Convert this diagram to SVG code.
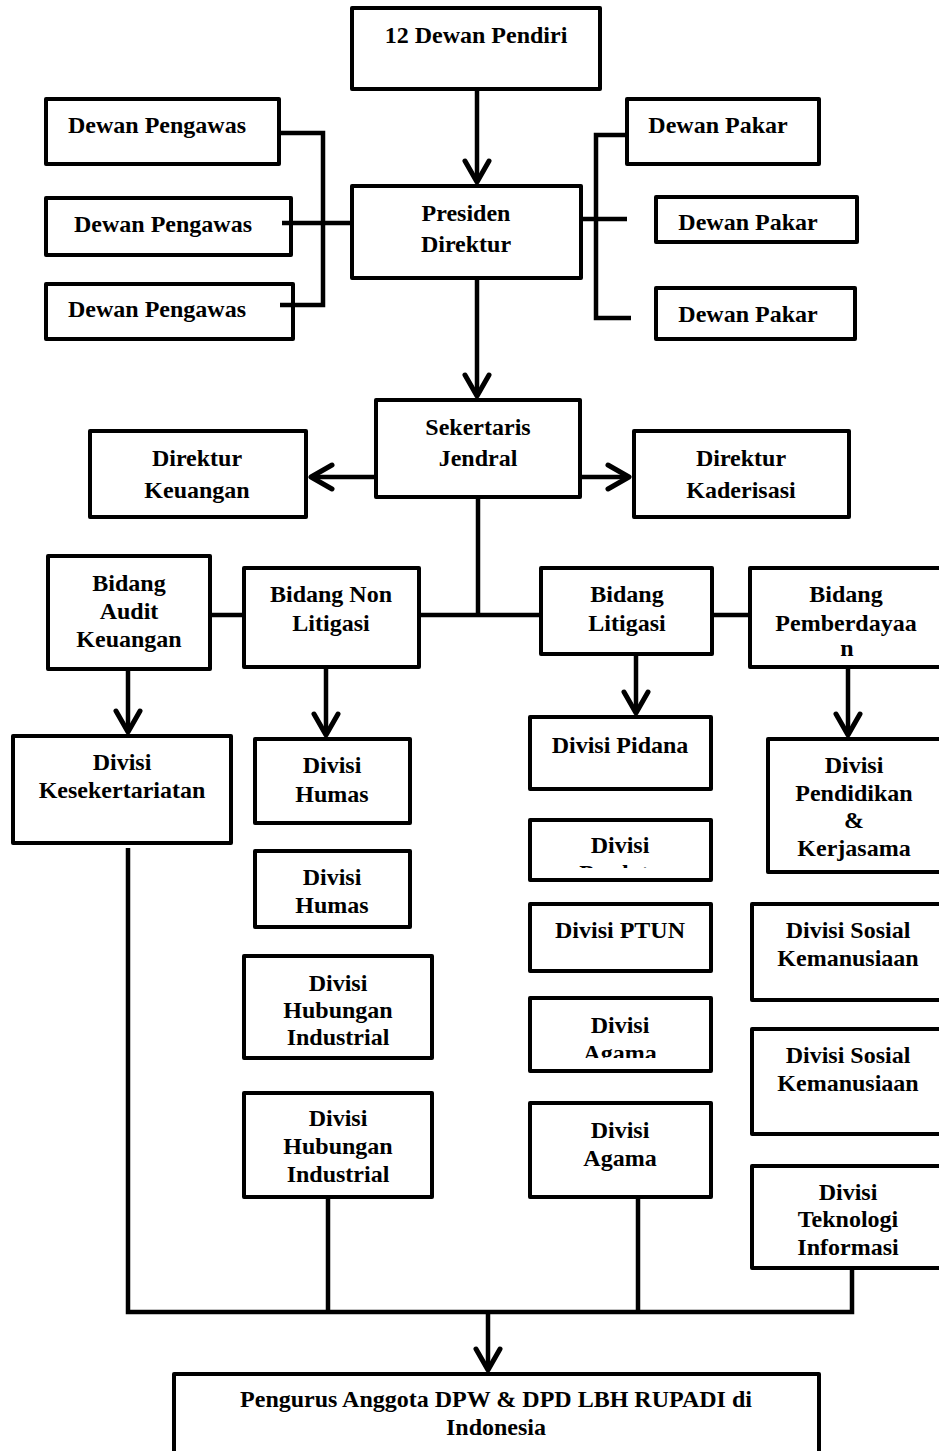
<svg xmlns="http://www.w3.org/2000/svg" width="939" height="1451" viewBox="0 0 939 1451">
<style>
.box{fill:#fff;stroke:#000;stroke-width:4;stroke-linejoin:round}
.ln{fill:none;stroke:#000;stroke-width:4.5;stroke-linejoin:miter}
.ar{fill:none;stroke:#000;stroke-width:4.5;marker-end:url(#ah)}
text{font-family:"Liberation Serif","Times New Roman",serif;font-weight:bold;font-size:24px;text-anchor:middle;fill:#000}
</style>
<defs>
<marker id="ah" markerUnits="userSpaceOnUse" markerWidth="32" markerHeight="32" viewBox="-26 -16 32 32" refX="0" refY="0" orient="auto" overflow="visible">
<path d="M-21,-12 L0,0 L-21,12" fill="none" stroke="#000" stroke-width="5" stroke-linecap="round" stroke-linejoin="round"/>
</marker>
<clipPath id="cPerdata"><rect x="530" y="820" width="181" height="48"/></clipPath>
<clipPath id="cAgama1"><rect x="530" y="998" width="181" height="60"/></clipPath>
</defs>
<rect width="939" height="1451" fill="#fff"/>

<g id="n-pendiri"><rect class="box" x="352" y="8" width="248" height="81"/><text x="476" y="43">12 Dewan Pendiri</text></g>
<g id="n-pengawas1"><rect class="box" x="46" y="99" width="233" height="65"/><text x="157" y="133">Dewan Pengawas</text></g>
<g id="n-pengawas2"><rect class="box" x="46" y="198" width="245" height="57"/><text x="163" y="232">Dewan Pengawas</text></g>
<g id="n-pengawas3"><rect class="box" x="46" y="284" width="247" height="55"/><text x="157" y="317">Dewan Pengawas</text></g>
<g id="n-presiden"><rect class="box" x="352" y="186" width="229" height="92"/><text x="466" y="221">Presiden</text><text x="466" y="252">Direktur</text></g>
<g id="n-pakar1"><rect class="box" x="627" y="99" width="192" height="65"/><text x="718" y="133">Dewan Pakar</text></g>
<g id="n-pakar2"><rect class="box" x="656" y="197" width="201" height="45"/><text x="748" y="230">Dewan Pakar</text></g>
<g id="n-pakar3"><rect class="box" x="656" y="288" width="199" height="51"/><text x="748" y="322">Dewan Pakar</text></g>
<g id="n-sekjen"><rect class="box" x="376" y="400" width="204" height="97"/><text x="478" y="435">Sekertaris</text><text x="478" y="466">Jendral</text></g>
<g id="n-keuangan"><rect class="box" x="90" y="431" width="216" height="86"/><text x="197" y="466">Direktur</text><text x="197" y="498">Keuangan</text></g>
<g id="n-kaderisasi"><rect class="box" x="634" y="431" width="215" height="86"/><text x="741" y="466">Direktur</text><text x="741" y="498">Kaderisasi</text></g>
<g id="n-audit"><rect class="box" x="48" y="556" width="162" height="113"/><text x="129" y="591">Bidang</text><text x="129" y="619">Audit</text><text x="129" y="647">Keuangan</text></g>
<g id="n-nonlit"><rect class="box" x="244" y="568" width="175" height="99"/><text x="331" y="602">Bidang Non</text><text x="331" y="631">Litigasi</text></g>
<g id="n-litigasi"><rect class="box" x="541" y="568" width="171" height="86"/><text x="627" y="602">Bidang</text><text x="627" y="631">Litigasi</text></g>
<g id="n-pemberdayaan"><rect class="box" x="750" y="568" width="210" height="99"/><text x="846" y="602">Bidang</text><text x="846" y="631">Pemberdayaa</text><text x="847" y="656">n</text></g>
<g id="n-kesekretariatan"><rect class="box" x="13" y="736" width="218" height="107"/><text x="122" y="770">Divisi</text><text x="122" y="798">Kesekertariatan</text></g>
<g id="n-humas1"><rect class="box" x="255" y="739" width="155" height="84"/><text x="332" y="773">Divisi</text><text x="332" y="802">Humas</text></g>
<g id="n-humas2"><rect class="box" x="255" y="851" width="155" height="76"/><text x="332" y="885">Divisi</text><text x="332" y="913">Humas</text></g>
<g id="n-hubind1"><rect class="box" x="244" y="956" width="188" height="102"/><text x="338" y="991">Divisi</text><text x="338" y="1018">Hubungan</text><text x="338" y="1045">Industrial</text></g>
<g id="n-hubind2"><rect class="box" x="244" y="1093" width="188" height="104"/><text x="338" y="1126">Divisi</text><text x="338" y="1154">Hubungan</text><text x="338" y="1182">Industrial</text></g>
<g id="n-pidana"><rect class="box" x="530" y="717" width="181" height="72"/><text x="620" y="753">Divisi Pidana</text></g>
<g id="n-perdata"><rect class="box" x="530" y="820" width="181" height="60"/><text x="620" y="853">Divisi</text><text x="620" y="881" clip-path="url(#cPerdata)">Perdata</text></g>
<g id="n-ptun"><rect class="box" x="530" y="904" width="181" height="67"/><text x="620" y="938">Divisi PTUN</text></g>
<g id="n-agama1"><rect class="box" x="530" y="998" width="181" height="73"/><text x="620" y="1033">Divisi</text><text x="620" y="1061" clip-path="url(#cAgama1)">Agama</text></g>
<g id="n-agama2"><rect class="box" x="530" y="1103" width="181" height="94"/><text x="620" y="1138">Divisi</text><text x="620" y="1166">Agama</text></g>
<g id="n-pendidikan"><rect class="box" x="768" y="739" width="200" height="133"/><text x="854" y="773">Divisi</text><text x="854" y="801">Pendidikan</text><text x="854" y="828">&amp;</text><text x="854" y="856">Kerjasama</text></g>
<g id="n-sosial1"><rect class="box" x="752" y="904" width="210" height="96"/><text x="848" y="938">Divisi Sosial</text><text x="848" y="966">Kemanusiaan</text></g>
<g id="n-sosial2"><rect class="box" x="752" y="1029" width="210" height="105"/><text x="848" y="1063">Divisi Sosial</text><text x="848" y="1091">Kemanusiaan</text></g>
<g id="n-ti"><rect class="box" x="752" y="1166" width="210" height="102"/><text x="848" y="1200">Divisi</text><text x="848" y="1227">Teknologi</text><text x="848" y="1255">Informasi</text></g>
<g id="n-pengurus"><rect class="box" x="174" y="1374" width="645" height="100"/><text x="496" y="1407">Pengurus Anggota DPW &amp; DPD LBH RUPADI di</text><text x="496" y="1435">Indonesia</text></g>

<g id="connectors">
<path class="ln" d="M279,133 H323 V305 H280"/>
<path class="ln" d="M282,223 H352"/>
<path class="ln" d="M627,135 H596 V318 H631"/>
<path class="ln" d="M581,219 H627"/>
<path class="ln" d="M478,497 V615"/>
<path class="ln" d="M210,615 H244"/>
<path class="ln" d="M419,615 H541"/>
<path class="ln" d="M712,615 H750"/>
<path class="ln" d="M128,848 V1312 H852 V1268"/>
<path class="ln" d="M328,1197 V1312"/>
<path class="ln" d="M638,1197 V1312"/>
<path class="ar" d="M477,91 V182"/>
<path class="ar" d="M477,280 V396"/>
<path class="ar" d="M374,477 H311"/>
<path class="ar" d="M582,477 H629"/>
<path class="ar" d="M128,671 V732"/>
<path class="ar" d="M326,669 V735"/>
<path class="ar" d="M636,656 V713"/>
<path class="ar" d="M848,669 V735"/>
<path class="ar" d="M488,1312 V1370"/>
</g>
</svg>
